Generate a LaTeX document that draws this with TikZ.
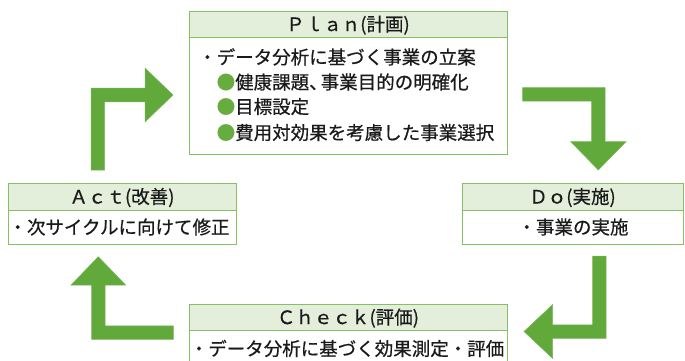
\documentclass[tikz,border=0pt]{standalone}
\usepackage{fontspec}
\newfontfamily\jp{Noto Sans CJK JP}[FakeBold=0.6]
\definecolor{bordergreen}{HTML}{86C063}
\definecolor{hdrfill}{HTML}{E3EFDA}
\definecolor{arrowgreen}{HTML}{62A93B}
\definecolor{dotgreen}{HTML}{66AC3E}
\definecolor{txt}{HTML}{1A1A1A}
\begin{document}
\begin{tikzpicture}[x=1pt,y=-1pt,
  box/.style={draw=bordergreen, line width=1.3pt, fill=white, inner sep=0pt, anchor=north west},
  hdr/.style={draw=bordergreen, line width=1.3pt, fill=hdrfill, inner sep=0pt, anchor=north west},
  lbl/.style={font=\jp\fontsize{18.5pt}{22pt}\selectfont, text=txt, inner sep=0pt, text height=16.3pt, text depth=2.2pt},
  blockarrow/.style={fill=arrowgreen, draw=arrowgreen!85!white, line width=0.5pt}]
\useasboundingbox (0,0) rectangle (685,361);
\clip (0,0) rectangle (685,361);

% Plan
\node[box, minimum width=318pt, minimum height=142.8pt] (planB) at (189,10.7) {};
\node[hdr, minimum width=318pt, minimum height=26.3pt] (planH) at (189,10.7) {};
\node[lbl] (planT) at (348,24) {Ｐｌａｎ(計画)};
\node[lbl, anchor=west] (planL1) at (198,57) {・データ分析に基づく事業の立案};
\node[lbl, anchor=west] (planL2) at (216.5,82) {{\color{dotgreen}●}健康課題、\kern-7pt事業目的の明確化};
\node[lbl, anchor=west] (planL3) at (216.5,106.5) {{\color{dotgreen}●}目標設定};
\node[lbl, anchor=west] (planL4) at (216.5,132.5) {{\color{dotgreen}●}費用対効果を考慮した事業選択};

% Act
\node[box, minimum width=228pt, minimum height=61pt] (actB) at (8,183) {};
\node[hdr, minimum width=228pt, minimum height=26.5pt] (actH) at (8,183) {};
\node[lbl] (actT) at (122,196.5) {Ａｃｔ(改善)};
\node[lbl] (actL) at (119,227) {・次サイクルに向けて修正};

% Do
\node[box, minimum width=221pt, minimum height=61pt] (doB) at (462,183) {};
\node[hdr, minimum width=221pt, minimum height=26.5pt] (doH) at (462,183) {};
\node[lbl] (doT) at (572.5,196.5) {Ｄｏ(実施)};
\node[lbl] (doL) at (573,227) {・事業の実施};

% Check
\node[box, minimum width=318pt, minimum height=90pt] (checkB) at (189,303.5) {};
\node[hdr, minimum width=318pt, minimum height=26.5pt] (checkH) at (189,303.5) {};
\node[lbl] (checkT) at (348,317) {Ｃｈｅｃｋ(評価)};
\node[lbl] (checkL) at (347,348.5) {・データ分析に基づく効果測定・評価};

% Arrows
% Act -> Plan
\draw[blockarrow] (91,170) -- (91,88.2) -- (145,88.2) -- (145,68) -- (173,95) -- (145,122) -- (145,101.8) -- (104.5,101.8) -- (104.5,170) -- cycle;
% Plan -> Do
\draw[blockarrow] (522.7,87.7) -- (605,87.7) -- (605,141.7) -- (626,141.7) -- (598.3,170) -- (570.7,141.7) -- (591.7,141.7) -- (591.7,101.2) -- (522.7,101.2) -- cycle;
% Do -> Check
\draw[blockarrow] (592.7,256) -- (606.2,256) -- (606.2,338.3) -- (552.7,338.3) -- (552.7,358.5) -- (524,331.5) -- (552.7,304.5) -- (552.7,324.8) -- (592.7,324.8) -- cycle;
% Check -> Act
\draw[blockarrow] (173.3,339.3) -- (91.7,339.3) -- (91.7,285) -- (71,285) -- (98.3,256.7) -- (125.6,285) -- (105,285) -- (105,325.9) -- (173.3,325.9) -- cycle;
\end{tikzpicture}
\end{document}
